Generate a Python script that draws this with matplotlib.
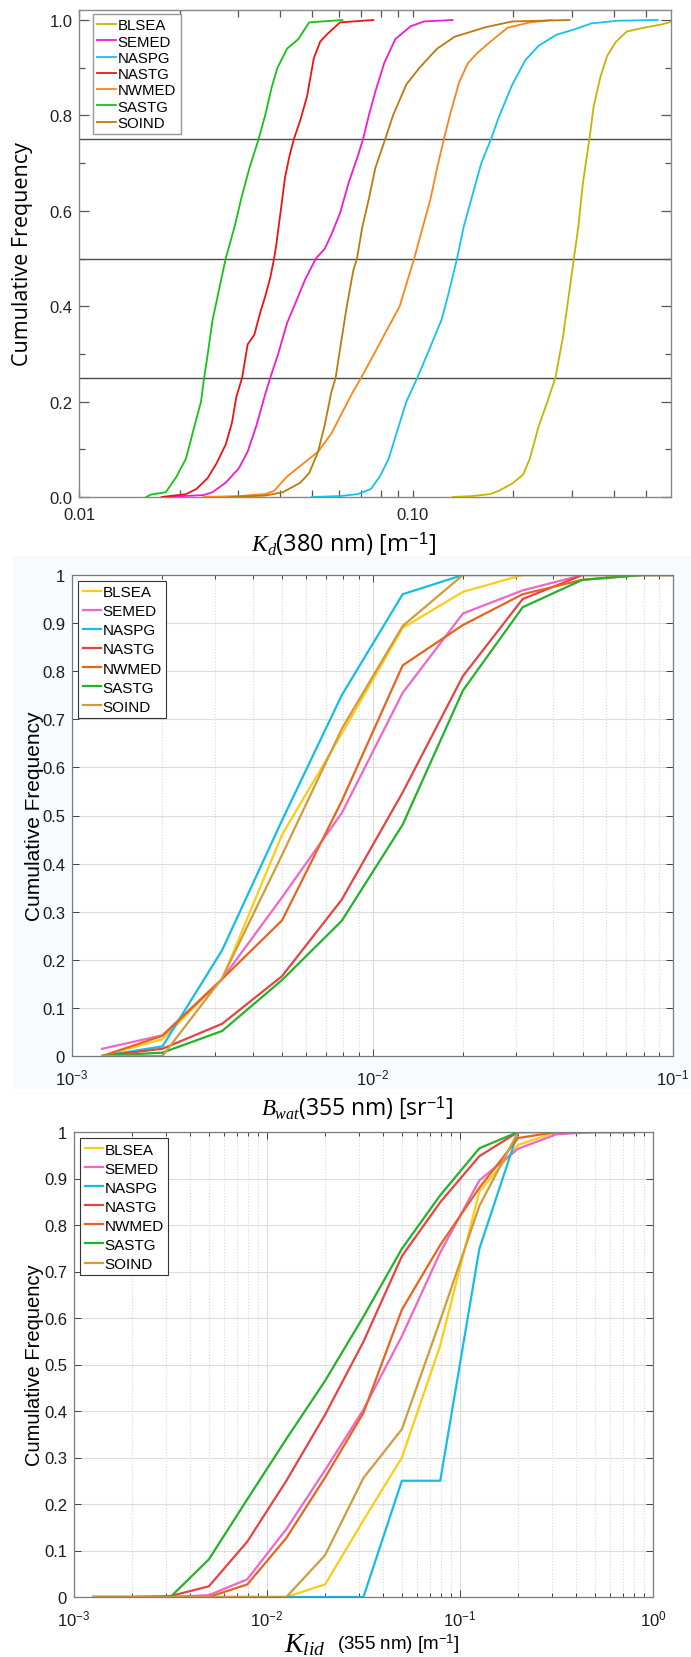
import matplotlib
matplotlib.use("Agg")
import matplotlib.pyplot as plt
from matplotlib.patches import Rectangle
from matplotlib.ticker import FixedLocator, FixedFormatter, NullFormatter

plt.rcParams['font.family'] = ['Liberation Sans', 'DejaVu Sans']
plt.rcParams['mathtext.fontset'] = 'custom'
plt.rcParams['mathtext.rm'] = 'Liberation Sans'
plt.rcParams['mathtext.it'] = 'Liberation Serif:italic'
plt.rcParams['mathtext.bf'] = 'Liberation Sans:bold'

regions = ['BLSEA', 'SEMED', 'NASPG', 'NASTG', 'NWMED', 'SASTG', 'SOIND']

# ---------------- Panel 1 : Kd(380 nm) empirical CDFs ----------------
kd_BLSEA_x = [0.1315, 0.1508, 0.1703, 0.1810, 0.1983, 0.2139, 0.2239, 0.2380, 0.2529, 0.2671, 0.2813, 0.2900,
              0.3035, 0.3129, 0.3226, 0.3377, 0.3481, 0.3643, 0.3813, 0.4052, 0.4372, 0.4937, 0.5577, 0.62]
kd_BLSEA_y = [0, 0.002, 0.006, 0.013, 0.028, 0.047, 0.08, 0.148, 0.20, 0.25, 0.334, 0.40,
              0.50, 0.566, 0.655, 0.75, 0.82, 0.88, 0.924, 0.954, 0.976, 0.984, 0.991, 1.0]
kd_SEMED_x = [0.0179, 0.0236, 0.0251, 0.0275, 0.0301, 0.0320, 0.0340, 0.0361, 0.0374, 0.0395, 0.0420, 0.0447,
              0.0475, 0.0512, 0.0544, 0.0570, 0.0605, 0.0643, 0.0684, 0.0709, 0.0738, 0.0772, 0.0821, 0.0886,
              0.0985, 0.1079, 0.1315]
kd_SEMED_y = [0, 0.004, 0.01, 0.03, 0.06, 0.095, 0.15, 0.215, 0.25, 0.30, 0.365, 0.41,
              0.455, 0.50, 0.52, 0.55, 0.595, 0.66, 0.715, 0.75, 0.80, 0.85, 0.91, 0.96,
              0.987, 0.997, 1.0]
kd_NASPG_x = [0.0497, 0.0605, 0.0684, 0.0749, 0.0796, 0.0846, 0.0899, 0.0956, 0.1031, 0.1113, 0.1219, 0.1276,
              0.1356, 0.1419, 0.1508, 0.1603, 0.1713, 0.1810, 0.1983, 0.2173, 0.2380, 0.2688, 0.3035, 0.3428,
              0.4114, 0.5412]
kd_NASPG_y = [0, 0.002, 0.006, 0.017, 0.043, 0.08, 0.14, 0.20, 0.25, 0.305, 0.372, 0.424,
              0.50, 0.566, 0.633, 0.70, 0.75, 0.797, 0.864, 0.916, 0.946, 0.969, 0.98, 0.993,
              0.9985, 1.0]
kd_NASTG_x = [0.0177, 0.0209, 0.0225, 0.0243, 0.0258, 0.0275, 0.0287, 0.0296, 0.0308, 0.0320, 0.0335, 0.0350,
              0.0361, 0.0374, 0.0384, 0.0390, 0.0402, 0.0414, 0.0427, 0.0440, 0.0460, 0.0482, 0.0505, 0.0528,
              0.0553, 0.0605, 0.0761]
kd_NASTG_y = [0, 0.006, 0.017, 0.04, 0.07, 0.11, 0.155, 0.21, 0.25, 0.32, 0.34, 0.39,
              0.42, 0.46, 0.50, 0.53, 0.60, 0.67, 0.715, 0.75, 0.79, 0.84, 0.92, 0.955,
              0.97, 0.995, 1.0]
kd_NWMED_x = [0.0236, 0.0301, 0.0361, 0.0384, 0.0420, 0.0475, 0.0520, 0.0570, 0.0615, 0.0663, 0.0700, 0.0772,
              0.0846, 0.0913, 0.0956, 0.1009, 0.1063, 0.1129, 0.1182, 0.1238, 0.1295, 0.1376, 0.1463, 0.1555,
              0.1703, 0.1923, 0.2239, 0.2607]
kd_NWMED_y = [0, 0.002, 0.006, 0.013, 0.043, 0.073, 0.095, 0.133, 0.178, 0.222, 0.25, 0.305,
              0.357, 0.40, 0.446, 0.50, 0.558, 0.625, 0.69, 0.75, 0.804, 0.87, 0.91, 0.93,
              0.954, 0.984, 0.995, 1.0]
kd_SASTG_x = [0.0159, 0.0164, 0.0182, 0.0196, 0.0209, 0.0222, 0.0232, 0.0237, 0.0243, 0.0251, 0.0260, 0.0275,
              0.0292, 0.0306, 0.0324, 0.0345, 0.0361, 0.0378, 0.0393, 0.0420, 0.0454, 0.0489, 0.0615]
kd_SASTG_y = [0, 0.005, 0.01, 0.043, 0.08, 0.15, 0.20, 0.25, 0.30, 0.37, 0.42, 0.50,
              0.565, 0.625, 0.69, 0.75, 0.80, 0.86, 0.90, 0.94, 0.96, 0.995, 1.0]
kd_SOIND_x = [0.0283, 0.0361, 0.0408, 0.0460, 0.0489, 0.0520, 0.0544, 0.0570, 0.0587, 0.0605, 0.0634, 0.0663,
              0.0680, 0.0705, 0.0738, 0.0772, 0.0826, 0.0872, 0.0956, 0.1047, 0.1182, 0.1335, 0.1652, 0.1983,
              0.2944]
kd_SOIND_y = [0, 0.003, 0.01, 0.03, 0.05, 0.095, 0.15, 0.22, 0.25, 0.31, 0.40, 0.475,
              0.50, 0.565, 0.625, 0.69, 0.75, 0.80, 0.865, 0.90, 0.94, 0.965, 0.985, 0.997,
              1.0]
kd_quartiles = [0.25, 0.50, 0.75]
kd_xticks = [0.01, 0.1]
kd_xticklabels = ['0.01', '0.10']
kd_yticks = [0.0, 0.2, 0.4, 0.6, 0.8, 1.0]
kd_yticklabels = ['0.0', '0.2', '0.4', '0.6', '0.8', '1.0']

# ---------------- Panel 2 : Bwat(355 nm) ----------------
bwat_x = [0.00126, 0.002, 0.00316, 0.005, 0.0079, 0.0126, 0.02, 0.0316, 0.05, 0.079, 0.1]
bwat_BLSEA = [0, 0.035, 0.16, 0.46, 0.67, 0.89, 0.965, 1.0, 1.0, 1.0, 1.0]
bwat_SEMED = [0.015, 0.043, 0.16, 0.33, 0.505, 0.755, 0.92, 0.968, 1.0, 1.0, 1.0]
bwat_NASPG = [0, 0.02, 0.22, 0.49, 0.75, 0.96, 1.0, 1.0, 1.0, 1.0, 1.0]
bwat_NASTG = [0, 0.015, 0.067, 0.166, 0.325, 0.548, 0.79, 0.95, 1.0, 1.0, 1.0]
bwat_NWMED = [0, 0.042, 0.16, 0.282, 0.53, 0.812, 0.896, 0.96, 0.99, 1.0, 1.0]
bwat_SASTG = [0, 0.007, 0.052, 0.158, 0.281, 0.481, 0.76, 0.933, 0.99, 1.0, 1.0]
bwat_SOIND = [0, 0, 0.162, 0.418, 0.68, 0.894, 1.0, 1.0, 1.0, 1.0, 1.0]

# ---------------- Panel 3 : Klid(355 nm) ----------------
klid_x = [0.00126, 0.002, 0.00316, 0.005, 0.0079, 0.0126, 0.02, 0.0316, 0.05, 0.079, 0.126, 0.2, 0.316, 0.5, 0.79]
klid_BLSEA = [0, 0, 0, 0, 0, 0, 0.027, 0.165, 0.30, 0.541, 0.872, 0.972, 1, 1, 1]
klid_SEMED = [0, 0, 0, 0.004, 0.038, 0.146, 0.273, 0.403, 0.561, 0.741, 0.896, 0.964, 0.995, 1, 1]
klid_NASPG = [0, 0, 0, 0, 0, 0, 0, 0, 0.25, 0.25, 0.749, 1, 1, 1, 1]
klid_NASTG = [0, 0, 0.002, 0.023, 0.119, 0.25, 0.392, 0.549, 0.733, 0.849, 0.948, 1, 1, 1, 1]
klid_NWMED = [0, 0, 0, 0, 0.027, 0.127, 0.257, 0.396, 0.618, 0.757, 0.88, 0.987, 1, 1, 1]
klid_SASTG = [0, 0, 0, 0.081, 0.21, 0.34, 0.465, 0.603, 0.749, 0.864, 0.965, 1, 1, 1, 1]
klid_SOIND = [0, 0, 0, 0, 0, 0, 0.09, 0.256, 0.361, 0.595, 0.841, 1, 1, 1, 1]

matlab_yticks = [0, 0.1, 0.2, 0.3, 0.4, 0.5, 0.6, 0.7, 0.8, 0.9, 1.0]
matlab_yticklabels = ['0', '0.1', '0.2', '0.3', '0.4', '0.5', '0.6', '0.7', '0.8', '0.9', '1']

colors1 = {'BLSEA': '#c8b400', 'SEMED': '#f21ad2', 'NASPG': '#12c3ee', 'NASTG': '#f01212',
           'NWMED': '#ff8414', 'SASTG': '#14c414', 'SOIND': '#bd7a0c'}
colors2 = {'BLSEA': '#ffcc14', 'SEMED': '#f066c8', 'NASPG': '#14bde8', 'NASTG': '#e64444',
           'NWMED': '#e8641e', 'SASTG': '#22b428', 'SOIND': '#d29b3c'}

CALIBRI = ['Open Sans', 'DejaVu Sans']

fig = plt.figure(figsize=(6.91, 16.58), dpi=100)
W, H = 691.0, 1658.0

def ax_rect(l, t, r, b):
    return [l / W, 1 - b / H, (r - l) / W, (b - t) / H]

# very pale backdrop of the middle panel image
fig.patches.append(Rectangle((13 / W, 1 - 1090 / H), 1 - 13 / W, (1090 - 557) / H,
                             transform=fig.transFigure, facecolor='#f7fbfd', edgecolor='none', zorder=-10))

# ---------- Panel 1 ----------
ax1 = fig.add_axes(ax_rect(79, 11, 671, 498))
for q in kd_quartiles:
    ax1.axhline(q, color='#4a4a4a', lw=1.0, zorder=1)
kd_data = {'BLSEA': (kd_BLSEA_x, kd_BLSEA_y), 'SEMED': (kd_SEMED_x, kd_SEMED_y),
           'NASPG': (kd_NASPG_x, kd_NASPG_y), 'NASTG': (kd_NASTG_x, kd_NASTG_y),
           'NWMED': (kd_NWMED_x, kd_NWMED_y), 'SASTG': (kd_SASTG_x, kd_SASTG_y),
           'SOIND': (kd_SOIND_x, kd_SOIND_y)}
for r in regions:
    xs, ys = kd_data[r]
    ax1.plot(xs, ys, color=colors1[r], lw=1.3, label=r, zorder=3)
ax1.set_xscale('log')
ax1.set_xlim(0.01, 0.593)
ax1.set_ylim(0, 1.021)
ax1.xaxis.set_major_locator(FixedLocator(kd_xticks))
ax1.xaxis.set_major_formatter(FixedFormatter(kd_xticklabels))
ax1.xaxis.set_minor_locator(FixedLocator([0.02, 0.03, 0.04, 0.05, 0.06, 0.07, 0.08, 0.09,
                                          0.2, 0.3, 0.4, 0.5]))
ax1.xaxis.set_minor_formatter(NullFormatter())
ax1.yaxis.set_major_locator(FixedLocator(kd_yticks))
ax1.yaxis.set_major_formatter(FixedFormatter(kd_yticklabels))
ax1.yaxis.set_minor_locator(FixedLocator([0.1, 0.3, 0.5, 0.7, 0.9]))
ax1.tick_params(which='both', direction='in', top=True, right=True, color='#555555',
                labelsize=12, labelcolor='#222222', width=0.9)
ax1.tick_params(axis='y', which='major', length=7, pad=4.5)
ax1.tick_params(axis='y', which='minor', length=4)
ax1.tick_params(axis='x', which='both', length=5, pad=7)
for s in ax1.spines.values():
    s.set_color('#888888')
    s.set_linewidth(1.0)
ax1.set_ylabel('Cumulative Frequency', family=CALIBRI, fontsize=15.5)
ax1.yaxis.set_label_coords(-0.078, 0.5)
ax1.set_xlabel(r'$K_d$(380 nm) [m$^{-1}$]', family=CALIBRI, fontsize=17)
ax1.xaxis.set_label_coords(0.446, -0.066)
leg1 = ax1.legend(loc='upper left', bbox_to_anchor=(0.0236, 0.992), borderaxespad=0,
                  fontsize=10.8, handlelength=1.25, handletextpad=0.1, labelspacing=0.15,
                  borderpad=0.3, fancybox=False, framealpha=1, edgecolor='#999999')
leg1.get_frame().set_linewidth(1.0)

# ---------- Panels 2 & 3 ----------
def matlab_style(ax, xmin, xmax, decades):
    ax.set_xscale('log')
    ax.set_xlim(xmin, xmax)
    ax.set_ylim(0, 1)
    ax.yaxis.set_major_locator(FixedLocator(matlab_yticks))
    ax.yaxis.set_major_formatter(FixedFormatter(matlab_yticklabels))
    ax.set_xticks(decades)
    ax.grid(which='major', color='#dcdcdc', lw=0.8)
    ax.grid(which='minor', axis='x', color='#d8d8d8', ls=':', lw=0.8)
    ax.set_axisbelow(True)
    ax.tick_params(which='both', direction='in', top=True, right=True, color='#404040',
                   labelsize=12, labelcolor='#1a1a1a', width=0.7)
    ax.tick_params(axis='y', which='major', length=5, pad=5)
    ax.tick_params(axis='x', which='major', length=5, pad=8)
    ax.tick_params(which='minor', length=3)
    ax.set_facecolor('white')
    for s in ax.spines.values():
        s.set_color('#7a7a7a')
        s.set_linewidth(0.9)

legend_kw = dict(loc='upper left', borderaxespad=0, fontsize=11, handlelength=1.2,
                 handletextpad=0.1, labelspacing=0.33, borderpad=0.3, fancybox=False,
                 framealpha=1, edgecolor='#333333')

ax2 = fig.add_axes(ax_rect(72, 576, 673, 1057))
bwat_data = {'BLSEA': bwat_BLSEA, 'SEMED': bwat_SEMED, 'NASPG': bwat_NASPG, 'NASTG': bwat_NASTG,
             'NWMED': bwat_NWMED, 'SASTG': bwat_SASTG, 'SOIND': bwat_SOIND}
for r in regions:
    ax2.plot(bwat_x, bwat_data[r], color=colors2[r], lw=1.6, label=r)
matlab_style(ax2, 1e-3, 1e-1, [1e-3, 1e-2, 1e-1])
ax2.set_ylabel('Cumulative Frequency', fontsize=15)
ax2.yaxis.set_label_coords(-0.047, 0.5)
ax2.set_xlabel(r'$B_{wat}$(355 nm) [sr$^{-1}$]', family=CALIBRI, fontsize=16.5)
ax2.xaxis.set_label_coords(0.475, -0.077)
leg2 = ax2.legend(bbox_to_anchor=(0.01, 0.988), **legend_kw)
leg2.get_frame().set_linewidth(0.8)

ax3 = fig.add_axes(ax_rect(74, 1133, 653, 1598))
klid_data = {'BLSEA': klid_BLSEA, 'SEMED': klid_SEMED, 'NASPG': klid_NASPG, 'NASTG': klid_NASTG,
             'NWMED': klid_NWMED, 'SASTG': klid_SASTG, 'SOIND': klid_SOIND}
for r in regions:
    ax3.plot(klid_x, klid_data[r], color=colors2[r], lw=1.6, label=r)
matlab_style(ax3, 1e-3, 1.0, [1e-3, 1e-2, 1e-1, 1.0])
ax3.set_ylabel('Cumulative Frequency', fontsize=14.5)
ax3.yaxis.set_label_coords(-0.052, 0.5)
leg3 = ax3.legend(bbox_to_anchor=(0.0104, 0.987), **legend_kw)
leg3.get_frame().set_linewidth(0.8)
fig.text(325 / W, 1 - 1645 / H, r'$K_{lid}$', fontsize=20, ha='right', va='center')
fig.text(337 / W, 1 - 1644 / H, r'(355 nm) [m$^{-1}$]', fontsize=13.5, ha='left', va='center')

fig.savefig('out.png', dpi=100, facecolor='white')
